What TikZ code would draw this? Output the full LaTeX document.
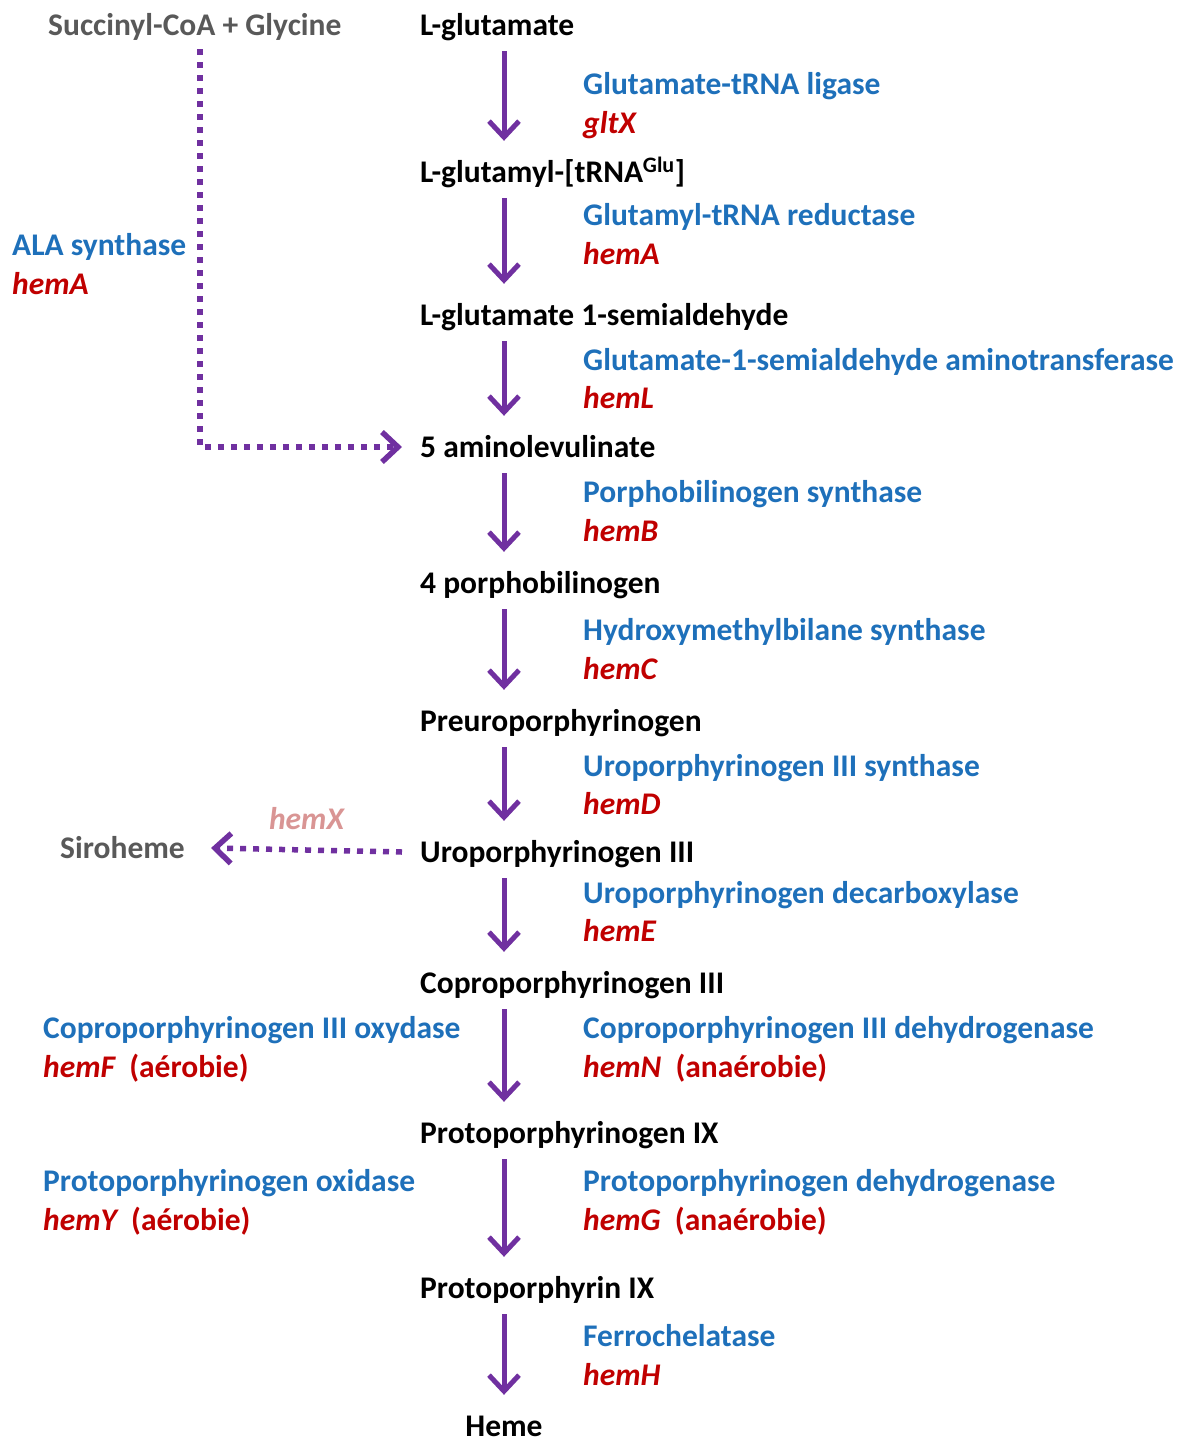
\documentclass[tikz,border=0pt]{standalone}
\usepackage{fontspec}
\setmainfont{Carlito}
\usetikzlibrary{arrows.meta,calc}
\definecolor{pathpurple}{RGB}{112,48,160}
\definecolor{enzblue}{RGB}{30,112,186}
\definecolor{genred}{RGB}{192,0,0}
\definecolor{sidegrey}{RGB}{89,89,89}
\definecolor{palered}{RGB}{217,149,148}
\tikzset{
  cpd/.style={anchor=west,inner sep=0pt,text height=20pt,text depth=0pt,font=\bfseries\fontsize{31.5}{33}\selectfont},
  enz/.style={cpd,text=enzblue},
  gen/.style={cpd,text=genred,font=\bfseries\itshape\fontsize{31.5}{33}\selectfont},
  rxn/.style={draw=pathpurple,line width=5pt,-{Straight Barb[length=16pt,width=30pt]}},
  alt/.style={rxn,line width=5.5pt,dash pattern=on 6pt off 7pt}
}
\begin{document}
\begin{tikzpicture}[x=1pt,y=-1pt]
\useasboundingbox (0,0) rectangle (1188,1443);
\coordinate (col) at (504,0);
% compounds
\node[cpd] (glu) at (420,25) {L-glutamate};
\node[cpd] (glutrna) at (420,172) {L-glutamyl-[tRNA\textsuperscript{Glu}]};
\node[cpd] (gsa) at (420,315) {L-glutamate 1-semialdehyde};
\node[cpd] (ala) at (420,447) {5 aminolevulinate};
\node[cpd] (pbg) at (420,583) {4 porphobilinogen};
\node[cpd] (pre) at (420,721) {Preuroporphyrinogen};
\node[cpd] (uro) at (420,852) {Uroporphyrinogen III};
\node[cpd] (copro) at (420,983) {Coproporphyrinogen III};
\node[cpd] (protogen) at (420,1133) {Protoporphyrinogen IX};
\node[cpd] (proto) at (420,1288) {Protoporphyrin IX};
\node[cpd,anchor=center] (heme) at (504,1426) {Heme};
\node[cpd,text=sidegrey] (succ) at (48,25) {Succinyl-CoA + Glycine};
\node[cpd,text=sidegrey] (siro) at (60,848) {Siroheme};
% enzymes and genes
\node[enz] (e1) at (583,84) {Glutamate-tRNA ligase};
\node[gen] (g1) at (583,123) {gltX};
\node[enz] (e2) at (583,215) {Glutamyl-tRNA reductase};
\node[gen] (g2) at (583,254) {hemA};
\node[enz] (e3) at (583,360) {Glutamate-1-semialdehyde aminotransferase};
\node[gen] (g3) at (583,398) {hemL};
\node[enz] (e4) at (583,492) {Porphobilinogen synthase};
\node[gen] (g4) at (583,531) {hemB};
\node[enz] (e5) at (583,630) {Hydroxymethylbilane synthase};
\node[gen] (g5) at (583,669) {hemC};
\node[enz] (e6) at (583,766) {Uroporphyrinogen III synthase};
\node[gen] (g6) at (583,804) {hemD};
\node[enz] (e7) at (583,893) {Uroporphyrinogen decarboxylase};
\node[gen] (g7) at (583,931) {hemE};
\node[enz] (e8) at (583,1028) {Coproporphyrinogen III dehydrogenase};
\node[gen] (g8) at (583,1067) {hemN\ \ \upshape(anaérobie)};
\node[enz] (e9) at (583,1181) {Protoporphyrinogen dehydrogenase};
\node[gen] (g9) at (583,1220) {hemG\ \ \upshape(anaérobie)};
\node[enz] (e10) at (583,1336) {Ferrochelatase};
\node[gen] (g10) at (583,1375) {hemH};
\node[enz] (e8b) at (43,1028) {Coproporphyrinogen III oxydase};
\node[gen] (g8b) at (43,1067) {hemF\ \ \upshape(aérobie)};
\node[enz] (e9b) at (43,1181) {Protoporphyrinogen oxidase};
\node[gen] (g9b) at (43,1220) {hemY\ \ \upshape(aérobie)};
\node[enz] (eala) at (12,245) {ALA synthase};
\node[gen] (gala) at (12,284) {hemA};
% reactions
\foreach \a/\b in {glu/glutrna,glutrna/gsa,gsa/ala,ala/pbg,pbg/pre,pre/uro,uro/copro,copro/protogen,protogen/proto,proto/heme}
\draw[rxn] ($(\a.south -| col)+(0,16)$) -- ($(\b.north -| col)-(0,21)$);
\draw[alt] ([xshift=5pt,yshift=-14pt]succ.south) |- ([xshift=-18pt]ala.west);
\draw[alt] ([xshift=-18pt]uro.west) -- ([xshift=26pt]siro.east)
  node[gen,anchor=center,midway,yshift=31pt,text=palered] (gx) {hemX};
\end{tikzpicture}
\end{document}
